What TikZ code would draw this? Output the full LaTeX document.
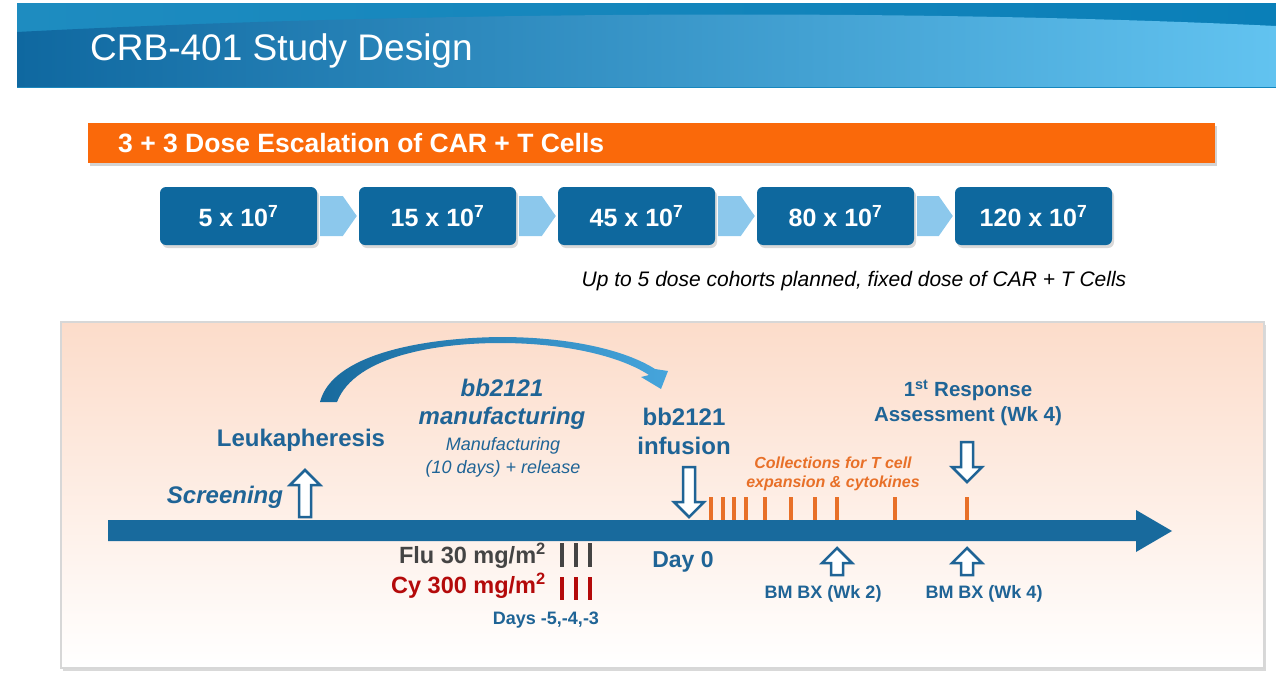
\documentclass[tikz,border=0pt]{standalone}
\usepackage{fontspec}
\setmainfont{Liberation Sans}
\usetikzlibrary{shadows}

\definecolor{hdrtopl}{RGB}{30,140,192}
\definecolor{hdrtopm}{RGB}{115,208,242}
\definecolor{hdrtopr}{RGB}{10,127,184}
\definecolor{hdrdark}{RGB}{15,104,160}
\definecolor{hdrlight}{RGB}{98,195,240}
\definecolor{tlblue}{RGB}{31,100,150}
\definecolor{doseblue}{RGB}{14,104,158}
\definecolor{barblue}{RGB}{24,106,157}
\definecolor{arcblue}{RGB}{70,165,220}
\definecolor{chevblue}{RGB}{140,200,236}
\definecolor{bannerorange}{RGB}{250,105,10}
\definecolor{tickorange}{RGB}{232,112,40}
\definecolor{flugray}{RGB}{68,68,68}
\definecolor{cyred}{RGB}{180,10,10}
\definecolor{peach}{RGB}{252,220,202}
\definecolor{panelgray}{RGB}{215,215,215}

\tikzset{
  hollow/.style={draw=tlblue, fill=white, line width=2.5pt, line join=miter},
  pics/hollowarr/.style={code={%
    \draw[hollow] (0,0) -- (15,15) -- (6,15) -- (6,#1) -- (-6,#1) -- (-6,15) -- (-15,15) -- cycle;}},
}

\begin{document}
\begin{tikzpicture}[x=1pt,y=-1pt,
    every node/.style={inner sep=0pt},
    dosebox/.style={rounded corners=6pt, fill=doseblue, text=white,
      minimum width=157pt, minimum height=58pt,
      font=\bfseries\fontsize{25}{30}\selectfont,
      drop shadow={opacity=0.3, shadow xshift=2pt, shadow yshift=-3pt}},
    lbl/.style={text=tlblue, align=center, font=\bfseries\fontsize{24}{29}\selectfont},
    tick/.style={line width=3.5pt}]
  \useasboundingbox (0,0) rectangle (1276,688);

  % header band
  \shade[left color=hdrtopl, middle color=hdrtopm, right color=hdrtopr] (17,3) rectangle (1276,87);
  \shade[left color=hdrdark, right color=hdrlight] (17,87) -- (17,32)
    .. controls (400,12) and (900,8) .. (1276,26) -- (1276,87) -- cycle;
  \node[anchor=west, text=white, font=\fontsize{37}{40}\selectfont] (title) at (90,51) {CRB-401 Study Design};

  % dose escalation banner
  \fill[bannerorange, drop shadow={opacity=0.35, shadow xshift=2pt, shadow yshift=-3pt}] (88,123) rectangle (1215,163);
  \node[anchor=west, text=white, font=\bfseries\fontsize{26.5}{30}\selectfont] (banner) at (118,143)
    {3 + 3 Dose Escalation of CAR + T Cells};

  \foreach \n/\x/\dose in {1/238.5/5, 2/437.5/15, 3/636.5/45, 4/835.5/80, 5/1033.5/120}
    \node[dosebox] (d\n) at (\x,216) {\dose{} x 10\textsuperscript{7}};
  \foreach \a/\b in {1/2, 2/3, 3/4, 4/5}
    \fill[chevblue] ([xshift=3pt,yshift=20pt]d\a.east) -- ([xshift=-16pt,yshift=20pt]d\b.west)
      -- ([xshift=-2pt]d\b.west) -- ([xshift=-16pt,yshift=-20pt]d\b.west)
      -- ([xshift=3pt,yshift=-20pt]d\a.east) -- cycle;
  \node[font=\itshape\fontsize{21}{24}\selectfont] (note) at (854,281)
    {Up to 5 dose cohorts planned, fixed dose of CAR + T Cells};

  % timeline panel
  \shadedraw[top color=peach, bottom color=white, draw=panelgray, line width=2.5pt,
    drop shadow={opacity=0.3, shadow xshift=2pt, shadow yshift=-3pt}] (61,322) rectangle (1264,668);
  \fill[barblue] (108,520) -- (1136,520) -- (1136,510) -- (1172,531) -- (1136,552) -- (1136,541) -- (108,541) -- cycle;

  % curved arrow leukapheresis -> infusion
  \shade[left color=barblue, right color=arcblue] (320,402) .. controls (332,355) and (420,338) .. (500,337)
    .. controls (570,337) and (625,350) .. (655,369)
    -- (668,371) -- (661,389) -- (641,377) -- (649,375)
    .. controls (620,356) and (565,343) .. (500,343)
    .. controls (440,343) and (355,355) .. (337,402) -- cycle;

  \node[lbl] (leuk) at (301,440) {Leukapheresis};
  \node[lbl, font=\bfseries\itshape\fontsize{24}{29}\selectfont] (screen) at (225,497) {Screening};
  \pic at (305,470) {hollowarr=47};
  \node[lbl, font=\bfseries\itshape\fontsize{24}{28}\selectfont] (mfg) at (502,404) {bb2121\\manufacturing};
  \node[lbl, font=\itshape\fontsize{18}{23}\selectfont] (mfgdays) at (503,457) {Manufacturing\\(10 days) + release};
  \node[lbl] (inf) at (684,431) {bb2121\\infusion};
  \pic[rotate=180] at (689,517) {hollowarr=50};
  \node[lbl, font=\bfseries\fontsize{23}{28}\selectfont] (day0) at (683,562) {Day 0};

  % flu / cy conditioning
  \node[anchor=east, text=flugray, font=\bfseries\fontsize{23.5}{26}\selectfont] (flu) at (546,556) {Flu 30 mg/m\textsuperscript{2}};
  \node[anchor=east, text=cyred, font=\bfseries\fontsize{23.5}{26}\selectfont] (cy) at (546,586) {Cy 300 mg/m\textsuperscript{2}};
  \foreach \tx in {562,576,590} {
    \draw[tick, flugray] (\tx,543) -- (\tx,567);
    \draw[tick, cyred] (\tx,577) -- (\tx,600);
  }
  \node[lbl, font=\bfseries\fontsize{18}{22}\selectfont] (days) at (546,620) {Days -5,-4,-3};

  % collections
  \foreach \tx in {711,723,734,746,765,791,815,837,895,967}
    \draw[tick, tickorange] (\tx,497) -- (\tx,520);
  \node[align=center, text=tickorange, font=\bfseries\itshape\fontsize{16}{19}\selectfont] (coll) at (833,474)
    {Collections for T cell\\expansion \& cytokines};

  % response assessment and biopsies
  \node[lbl, font=\bfseries\fontsize{20.5}{25}\selectfont] (resp) at (968,403) {1\textsuperscript{st} Response\\Assessment (Wk 4)};
  \pic[rotate=180] at (967,482) {hollowarr=40};
  \pic at (837,548) {hollowarr=27};
  \pic at (967,548) {hollowarr=27};
  \node[lbl, font=\bfseries\fontsize{18}{22}\selectfont] (bm2) at (823,594) {BM BX (Wk 2)};
  \node[lbl, font=\bfseries\fontsize{18}{22}\selectfont] (bm4) at (984,594) {BM BX (Wk 4)};
\end{tikzpicture}
\end{document}
